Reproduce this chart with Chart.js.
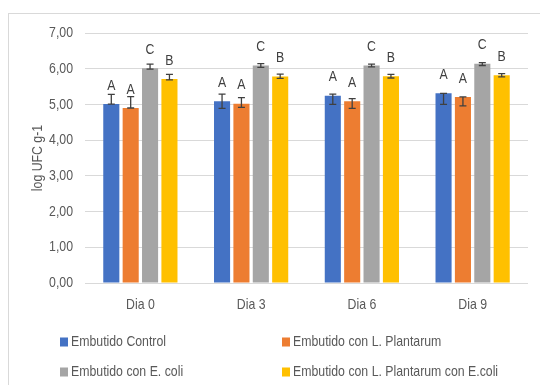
<!DOCTYPE html>
<html>
<head>
<meta charset="utf-8">
<script src="https://cdn.jsdelivr.net/npm/chart.js@4"></script>
<style>
  body { margin: 0; background: #fff; }
  #marco { position: absolute; left: 8px; top: 13px; width: 600px; height: 400px; border: 1px solid #d9d9d9; }
  canvas { position: absolute; left: 0; top: 0; }
</style>
</head>
<body>
<div id="marco"></div>
<canvas id="grafico" width="540" height="385"></canvas>
<script>
// Dias de muestreo
const dias = ['Dia 0', 'Dia 3', 'Dia 6', 'Dia 9'];

// Tratamientos
const tratamientos = [
    'Embutido Control',
    'Embutido con L. Plantarum',
    'Embutido con E. coli',
    'Embutido con L. Plantarum con E.coli'
];
const colores = ['#4472C4', '#ED7D31', '#A5A5A5', '#FFC000'];

// log UFC g-1 por tratamiento
const control      = [5.01, 5.09, 5.24, 5.31];
const plantarum    = [4.90, 5.02, 5.09, 5.21];
const ecoli        = [6.01, 6.09, 6.09, 6.14];
const plantarumEco = [5.71, 5.78, 5.79, 5.82];

// barras de error (positiva / negativa)
const errMas   = [[0.27, 0.20, 0.05, 0.00], [0.32, 0.17, 0.07, 0.00], [0.12, 0.05, 0.04, 0.03], [0.13, 0.07, 0.05, 0.04]];
const errMenos = [[0.00, 0.20, 0.24, 0.31], [0.00, 0.10, 0.20, 0.25], [0.02, 0.05, 0.04, 0.05], [0.02, 0.05, 0.05, 0.05]];

// letras de significancia
const letras = [
    ['A', 'A', 'A', 'A'],
    ['A', 'A', 'A', 'A'],
    ['C', 'C', 'C', 'C'],
    ['B', 'B', 'B', 'B']
];

const tituloY = 'log UFC g-1';

const fuente = "'Liberation Sans', Arial, sans-serif";
const gris = '#595959';
const angosto = 0.82; // la letra del grafico es condensada

const series = [control, plantarum, ecoli, plantarumEco];

// texto angosto: escala horizontal sobre la fuente normal
function texto(ctx, str, x, y, align, base, color, rot) {
    ctx.save();
    ctx.translate(x, y);
    if (rot) ctx.rotate(rot);
    ctx.scale(angosto, 1);
    ctx.font = '15px ' + fuente;
    ctx.fillStyle = color;
    ctx.textAlign = align;
    ctx.textBaseline = base;
    ctx.fillText(str, 0, 0);
    ctx.restore();
}

// etiquetas de los ejes y titulo
const ejes = {
    id: 'ejes',
    afterDraw(chart) {
        const ctx = chart.ctx;
        const x = chart.scales.x, y = chart.scales.y;
        y.ticks.forEach(t => {
            texto(ctx, t.value.toFixed(2).replace('.', ','), 73, y.getPixelForValue(t.value), 'right', 'middle', gris);
        });
        dias.forEach((d, i) => {
            texto(ctx, d, x.getPixelForValue(i), 305, 'center', 'middle', gris);
        });
        texto(ctx, tituloY, 38, (chart.chartArea.top + chart.chartArea.bottom) / 2, 'center', 'middle', gris, -Math.PI / 2);
    }
};

// dibuja las barras de error y las letras encima de cada barra
const barrasError = {
    id: 'barrasError',
    afterDatasetsDraw(chart) {
        const ctx = chart.ctx;
        const escala = chart.scales.y;
        ctx.save();
        series.forEach((datos, i) => {
            const meta = chart.getDatasetMeta(i);
            meta.data.forEach((barra, j) => {
                const arriba = escala.getPixelForValue(datos[j] + errMas[i][j]);
                const abajo = escala.getPixelForValue(datos[j] - errMenos[i][j]);
                ctx.strokeStyle = '#404040';
                ctx.lineWidth = 1.3;
                ctx.beginPath();
                ctx.moveTo(barra.x, arriba);
                ctx.lineTo(barra.x, abajo);
                ctx.moveTo(barra.x - 3.5, arriba);
                ctx.lineTo(barra.x + 3.5, arriba);
                ctx.moveTo(barra.x - 3.5, abajo);
                ctx.lineTo(barra.x + 3.5, abajo);
                ctx.stroke();

                texto(ctx, letras[i][j], barra.x, barra.y - 11, 'center', 'bottom', '#404040');
            });
        });
        ctx.restore();
    }
};

// leyenda en dos columnas
const leyenda = {
    id: 'leyenda',
    afterDraw(chart) {
        const ctx = chart.ctx;
        const colX = [60, 282];
        const filaY = [342, 372];
        tratamientos.forEach((nombre, i) => {
            const x = colX[i % 2];
            const y = filaY[Math.floor(i / 2)];
            ctx.fillStyle = colores[i];
            ctx.fillRect(x, y - 4.5, 8, 9);
            texto(ctx, nombre, x + 11, y, 'left', 'middle', gris);
        });
    }
};

new Chart(document.getElementById('grafico'), {
    type: 'bar',
    data: {
        labels: dias,
        datasets: series.map((datos, i) => ({
            label: tratamientos[i],
            data: datos,
            backgroundColor: colores[i],
            categoryPercentage: 0.70,
            barPercentage: 0.83
        }))
    },
    options: {
        responsive: false,
        animation: false,
        layout: { padding: { top: 33, right: 12, bottom: 60, left: 0 } },
        plugins: {
            legend: { display: false },
            tooltip: { enabled: false }
        },
        scales: {
            x: {
                grid: { display: false },
                border: { display: false },
                ticks: { display: false },
                afterFit(s) { s.height = 42; }
            },
            y: {
                min: 0,
                max: 7,
                ticks: { stepSize: 1, display: false },
                grid: { color: '#d9d9d9', lineWidth: 1, drawTicks: false },
                border: { display: false },
                afterFit(s) { s.width = 85; }
            }
        }
    },
    plugins: [barrasError, ejes, leyenda]
});
</script>
</body>
</html>
